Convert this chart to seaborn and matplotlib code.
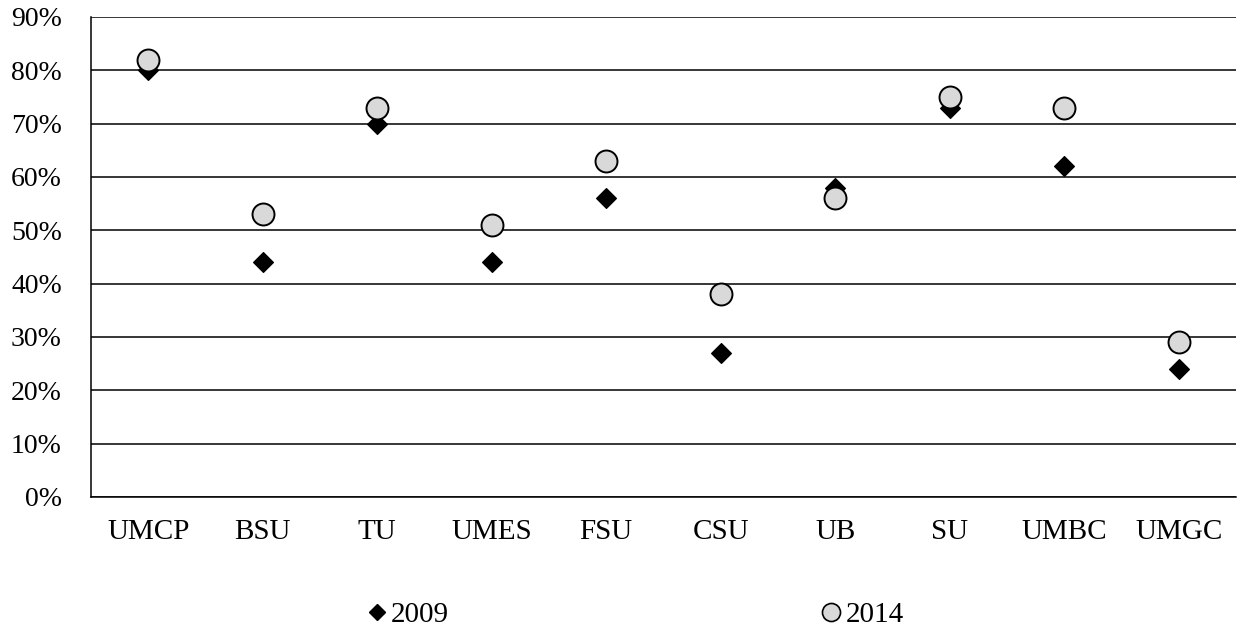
import matplotlib
matplotlib.use("Agg")
import matplotlib.pyplot as plt
import seaborn as sns
import pandas as pd
from matplotlib.ticker import FuncFormatter
from matplotlib.lines import Line2D

categories = ["UMCP", "BSU", "TU", "UMES", "FSU", "CSU", "UB", "SU", "UMBC", "UMGC"]
values_2009 = [80, 44, 70, 44, 56, 27, 58, 73, 62, 24]
values_2014 = [82, 53, 73, 51, 63, 38, 56, 75, 73, 29]
series_labels = ["2009", "2014"]
y_ticks = [0, 10, 20, 30, 40, 50, 60, 70, 80, 90]

sns.set_theme(style="white")
plt.rcParams['font.family'] = ['Liberation Serif', 'DejaVu Serif']
plt.rcParams['text.color'] = 'black'

df09 = pd.DataFrame({"school": categories, "pct": values_2009})
df14 = pd.DataFrame({"school": categories, "pct": values_2014})

fig = plt.figure(figsize=(12.37, 6.34), dpi=100)
ax = fig.add_axes([91/1237, 137/634, (1236-91)/1237, 480/634])

sns.scatterplot(data=df09, x="school", y="pct", marker="D", s=100,
                color="black", edgecolor="black", linewidth=1, ax=ax, zorder=3)
sns.scatterplot(data=df14, x="school", y="pct", marker="o", s=250,
                color="#d9d9d9", edgecolor="black", linewidth=1.4, ax=ax, zorder=4)

ax.set_xlim(-0.5, len(categories) - 0.5)
ax.set_ylim(0, 90)
ax.set_yticks(y_ticks)
ax.yaxis.set_major_formatter(FuncFormatter(lambda v, p: f"{int(v)}%"))
ax.grid(axis="y", color="black", linewidth=1.1)
ax.grid(axis="x", visible=False)
ax.set_axisbelow(True)
for s in ["top", "right"]:
    ax.spines[s].set_visible(False)
for s in ["left", "bottom"]:
    ax.spines[s].set_color("black")
    ax.spines[s].set_linewidth(1.1)
ax.tick_params(axis="both", length=0, colors="black")
ax.tick_params(axis="x", labelsize=21, pad=16)
ax.tick_params(axis="y", labelsize=20, pad=21)
ax.set_xlabel("")
ax.set_ylabel("")

handles = [
    Line2D([], [], marker="D", linestyle="none", markersize=8.5,
           markerfacecolor="black", markeredgecolor="black"),
    Line2D([], [], marker="o", linestyle="none", markersize=13,
           markerfacecolor="#d9d9d9", markeredgecolor="black", markeredgewidth=1.2),
]
leg = fig.legend(handles, series_labels, loc="center", bbox_to_anchor=(636/1237, 1 - 615/634),
                 ncol=2, frameon=False, fontsize=21, handlelength=0.6, handletextpad=0.2,
                 columnspacing=12.8)
for t in leg.get_texts():
    t.set_color("black")

fig.savefig("out.png", dpi=100, facecolor="white")
